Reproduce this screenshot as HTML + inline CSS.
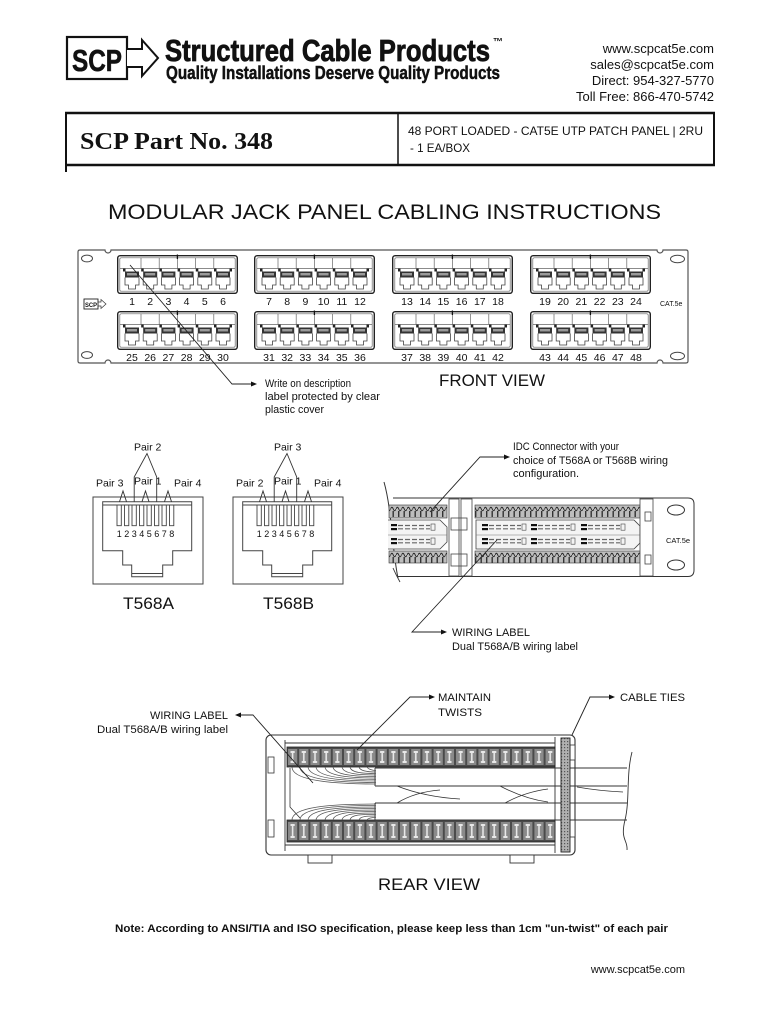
<!DOCTYPE html>
<html><head><meta charset="utf-8"><style>
html,body{margin:0;padding:0;background:#fff;}
svg{display:block;}
text{font-family:"Liberation Sans",sans-serif;fill:#111;}
</style></head><body>
<svg width="758" height="1024" viewBox="0 0 758 1024" xmlns="http://www.w3.org/2000/svg">
<defs>
 <g id="jk">
  <rect x="-9" y="13.5" width="2.5" height="3" fill="#222"/>
  <rect x="-7" y="16.5" width="14" height="6" fill="#333"/>
  <rect x="-5" y="18" width="10" height="2.5" fill="#9a9a9a"/>
  <path d="M-7 22.5V30H-3.5V34H3.5V30H7V22.5" fill="none" stroke="#444" stroke-width="0.8"/>
 </g>
 <g id="md">
  <rect x="0.7" y="0.7" width="119.6" height="37.6" rx="2.5" fill="#fff" stroke="#222" stroke-width="1.4"/>
  <rect x="2.8" y="2.8" width="115.4" height="33.4" rx="1.5" fill="none" stroke="#666" stroke-width="0.7"/>
  <path d="M24 2.8V13.5M42.2 2.8V13.5M60.4 2.8V13.5M78.6 2.8V13.5M96.8 2.8V13.5M3 13.5H118" stroke="#666" stroke-width="0.7" fill="none"/>
  <path d="M60.4 -0.5V4" stroke="#111" stroke-width="1.3"/>
  <use href="#jk" x="15"/><use href="#jk" x="33.2"/><use href="#jk" x="51.4"/>
  <use href="#jk" x="69.6"/><use href="#jk" x="87.8"/><use href="#jk" x="106"/>
  <rect x="112.5" y="13.5" width="2.5" height="3" fill="#222"/>
 </g>
 <g id="jd">
  <rect x="93" y="497" width="110" height="87" fill="none" stroke="#444" stroke-width="1"/>
  <path d="M102.7 501.7H191.7V550.7H172.7V565H162.7V576.7H131.7V565H122.7V550.7H102.7Z" fill="none" stroke="#444" stroke-width="1"/>
  <path d="M102.7 505H191.7M131.7 573.5H162.7" stroke="#444" stroke-width="0.9" fill="none"/>
  <path d="M117 505V525.7H121.3V505M124.5 505V525.7H128.8V505M132 505V525.7H136.3V505M139.5 505V525.7H143.8V505M147 505V525.7H151.3V505M154.5 505V525.7H158.8V505M162 505V525.7H166.3V505M169.5 505V525.7H173.8V505" fill="none" stroke="#444" stroke-width="0.9"/>
  <path d="M119.5 501.7L123 491L126.5 501.7M142 501.7L145.5 491L149 501.7M164.5 501.7L168 491L171.5 501.7" fill="none" stroke="#333" stroke-width="0.9"/>
  <path d="M134.2 501.7V477L147 453.5L156.7 477V501.7" fill="none" stroke="#333" stroke-width="0.9"/>
 </g>
 <g id="lbl">
  <rect x="0" y="0" width="6" height="2.2" fill="#111"/>
  <rect x="0" y="4" width="6" height="2.2" fill="#111"/>
  <path d="M7 1.5h32M7 4.8h32" stroke="#666" stroke-width="1.2" stroke-dasharray="5 2"/>
  <rect x="40" y="0" width="4" height="6.2" fill="none" stroke="#444" stroke-width="0.6"/>
 </g>
 <pattern id="idcA" width="5.5" height="13" patternUnits="userSpaceOnUse" patternTransform="translate(0 505)">
  <rect width="5.5" height="13" fill="#bdbdbd"/>
  <path d="M0 4Q1.4 0.5 2.75 4Q4.1 7.5 5.5 4" stroke="#222" stroke-width="0.9" fill="none"/>
  <rect x="2" y="6" width="1.4" height="6" fill="#333"/>
 </pattern>
 <pattern id="idcB" width="5.5" height="13" patternUnits="userSpaceOnUse" patternTransform="translate(0 551)">
  <rect width="5.5" height="13" fill="#bdbdbd"/>
  <path d="M0 4Q1.4 0.5 2.75 4Q4.1 7.5 5.5 4" stroke="#222" stroke-width="0.9" fill="none"/>
  <rect x="2" y="6" width="1.4" height="6" fill="#333"/>
 </pattern>
 <pattern id="irA" width="11.2" height="20" patternUnits="userSpaceOnUse" patternTransform="translate(287 747)">
  <rect width="11.2" height="20" fill="#4a4a4a"/>
  <rect x="1" y="2" width="9.2" height="16" fill="#8a8a8a"/>
  <path d="M3.5 4h4.2v2h-1.3v8h1.3v2h-4.2v-2h1.3v-8h-1.3z" fill="#e8e8e8"/>
 </pattern>
 <pattern id="irB" width="11.2" height="22" patternUnits="userSpaceOnUse" patternTransform="translate(287 820)">
  <rect width="11.2" height="22" fill="#4a4a4a"/>
  <rect x="1" y="2" width="9.2" height="18" fill="#8a8a8a"/>
  <path d="M3.5 4h4.2v2h-1.3v10h1.3v2h-4.2v-2h1.3v-10h-1.3z" fill="#e8e8e8"/>
 </pattern>
 <pattern id="hatch" width="3" height="3" patternUnits="userSpaceOnUse">
  <rect width="3" height="3" fill="#b0b0b0"/>
  <rect x="0" y="0" width="1.2" height="1.2" fill="#555"/>
 </pattern>
</defs>

<!-- HEADER -->
<rect x="67" y="37" width="60" height="42" fill="#fff" stroke="#111" stroke-width="2.2"/>
<text x="72" y="71" font-size="31" font-weight="bold" textLength="50" lengthAdjust="spacingAndGlyphs" stroke="#111" stroke-width="0.6">SCP</text>
<path d="M127 49H142V40L158 58L142 76V67H127" fill="#fff" stroke="#111" stroke-width="2"/>
<text x="165" y="61" font-size="31" font-weight="bold" textLength="325" lengthAdjust="spacingAndGlyphs" stroke="#111" stroke-width="0.8">Structured Cable Products</text>
<text x="493" y="45" font-size="10" font-weight="bold">™</text>
<text x="166" y="79" font-size="18" font-weight="bold" textLength="334" lengthAdjust="spacingAndGlyphs" stroke="#111" stroke-width="0.5">Quality Installations Deserve Quality Products</text>
<g font-size="13" text-anchor="end">
 <text x="714" y="53">www.scpcat5e.com</text>
 <text x="714" y="69">sales@scpcat5e.com</text>
 <text x="714" y="85">Direct: 954-327-5770</text>
 <text x="714" y="101">Toll Free: 866-470-5742</text>
</g>

<!-- PART BOX -->
<rect x="66" y="113" width="648" height="52" fill="none" stroke="#111" stroke-width="2"/>
<line x1="65" y1="113" x2="715" y2="113" stroke="#111" stroke-width="2.6"/>
<line x1="65" y1="165" x2="715" y2="165" stroke="#111" stroke-width="2.6"/>
<line x1="398" y1="113" x2="398" y2="165" stroke="#111" stroke-width="1.5"/>
<line x1="66" y1="165" x2="66" y2="172" stroke="#111" stroke-width="2"/>
<text x="80" y="149" font-size="24" font-weight="bold" textLength="193" lengthAdjust="spacingAndGlyphs" style="font-family:'Liberation Serif',serif">SCP Part No. 348</text>
<text x="408" y="135" font-size="12" textLength="295" lengthAdjust="spacingAndGlyphs">48 PORT LOADED - CAT5E  UTP PATCH PANEL  |  2RU</text>
<text x="410" y="152" font-size="12" textLength="60" lengthAdjust="spacingAndGlyphs">- 1 EA/BOX</text>

<!-- TITLE -->
<text x="108" y="219" font-size="21" textLength="553" lengthAdjust="spacingAndGlyphs">MODULAR JACK PANEL CABLING INSTRUCTIONS</text>

<!-- FRONT PANEL -->
<path d="M80 250H105A3 3 0 0 0 111 250H657A3 3 0 0 0 663 250H686Q688 250 688 252V361Q688 363 686 363H663A3 3 0 0 0 657 363H111A3 3 0 0 0 105 363H80Q78 363 78 361V252Q78 250 80 250Z" fill="#fff" stroke="#555" stroke-width="1.2"/>
<ellipse cx="87" cy="258.5" rx="5.5" ry="3.4" fill="none" stroke="#444" stroke-width="1"/>
<ellipse cx="87" cy="355" rx="5.5" ry="3.4" fill="none" stroke="#444" stroke-width="1"/>
<ellipse cx="677.5" cy="259" rx="7" ry="3.8" fill="none" stroke="#444" stroke-width="1"/>
<ellipse cx="677.5" cy="356" rx="7" ry="3.8" fill="none" stroke="#444" stroke-width="1"/>
<use href="#md" x="117" y="255"/><use href="#md" x="254" y="255"/><use href="#md" x="392" y="255"/><use href="#md" x="530" y="255"/>
<use href="#md" x="117" y="311"/><use href="#md" x="254" y="311"/><use href="#md" x="392" y="311"/><use href="#md" x="530" y="311"/>
<g font-size="10.5" text-anchor="middle" fill="#222">
 <text x="132" y="305">1</text><text x="150.2" y="305">2</text><text x="168.4" y="305">3</text><text x="186.6" y="305">4</text><text x="204.8" y="305">5</text><text x="223" y="305">6</text>
 <text x="269" y="305">7</text><text x="287.2" y="305">8</text><text x="305.4" y="305">9</text><text x="323.6" y="305">10</text><text x="341.8" y="305">11</text><text x="360" y="305">12</text>
 <text x="407" y="305">13</text><text x="425.2" y="305">14</text><text x="443.4" y="305">15</text><text x="461.6" y="305">16</text><text x="479.8" y="305">17</text><text x="498" y="305">18</text>
 <text x="545" y="305">19</text><text x="563.2" y="305">20</text><text x="581.4" y="305">21</text><text x="599.6" y="305">22</text><text x="617.8" y="305">23</text><text x="636" y="305">24</text>
 <text x="132" y="361">25</text><text x="150.2" y="361">26</text><text x="168.4" y="361">27</text><text x="186.6" y="361">28</text><text x="204.8" y="361">29</text><text x="223" y="361">30</text>
 <text x="269" y="361">31</text><text x="287.2" y="361">32</text><text x="305.4" y="361">33</text><text x="323.6" y="361">34</text><text x="341.8" y="361">35</text><text x="360" y="361">36</text>
 <text x="407" y="361">37</text><text x="425.2" y="361">38</text><text x="443.4" y="361">39</text><text x="461.6" y="361">40</text><text x="479.8" y="361">41</text><text x="498" y="361">42</text>
 <text x="545" y="361">43</text><text x="563.2" y="361">44</text><text x="581.4" y="361">45</text><text x="599.6" y="361">46</text><text x="617.8" y="361">47</text><text x="636" y="361">48</text>
</g>
<rect x="84" y="299" width="14" height="10" fill="#fff" stroke="#222" stroke-width="0.9"/>
<text x="85" y="307" font-size="6.5" font-weight="bold" textLength="12" lengthAdjust="spacingAndGlyphs">SCP</text>
<path d="M98 302H101V299.5L106 304L101 308.5V306H98" fill="none" stroke="#333" stroke-width="0.7"/>
<text x="660" y="306" font-size="7" fill="#333">CAT.5e</text>

<!-- front annotation -->
<path d="M130 265L232 384H252" fill="none" stroke="#222" stroke-width="0.9"/>
<polygon points="257,384 251,381.5 251,386.5" fill="#111"/>
<g font-size="11">
 <text x="265" y="387" textLength="86" lengthAdjust="spacingAndGlyphs">Write on description</text>
 <text x="265" y="400" textLength="115" lengthAdjust="spacingAndGlyphs">label protected by clear</text>
 <text x="265" y="413" textLength="59" lengthAdjust="spacingAndGlyphs">plastic cover</text>
</g>
<text x="439" y="386" font-size="17" textLength="106" lengthAdjust="spacingAndGlyphs">FRONT VIEW</text>

<!-- JACK DIAGRAMS -->
<use href="#jd"/>
<use href="#jd" x="140"/>
<g font-size="10.5">
 <text x="147.7" y="450.5" text-anchor="middle">Pair 2</text>
 <text x="96" y="486.5">Pair 3</text>
 <text x="134" y="484.5">Pair 1</text>
 <text x="174" y="486.5">Pair 4</text>
 <text x="287.7" y="450.5" text-anchor="middle">Pair 3</text>
 <text x="236" y="486.5">Pair 2</text>
 <text x="274" y="484.5">Pair 1</text>
 <text x="314" y="486.5">Pair 4</text>
</g>
<g font-size="9" text-anchor="middle">
 <text x="119.2" y="537">1</text><text x="126.7" y="537">2</text><text x="134.2" y="537">3</text><text x="141.7" y="537">4</text><text x="149.2" y="537">5</text><text x="156.7" y="537">6</text><text x="164.2" y="537">7</text><text x="171.7" y="537">8</text>
 <text x="259.2" y="537">1</text><text x="266.7" y="537">2</text><text x="274.2" y="537">3</text><text x="281.7" y="537">4</text><text x="289.2" y="537">5</text><text x="296.7" y="537">6</text><text x="304.2" y="537">7</text><text x="311.7" y="537">8</text>
</g>
<text x="123" y="609" font-size="17" textLength="51" lengthAdjust="spacingAndGlyphs">T568A</text>
<text x="263" y="609" font-size="17" textLength="51" lengthAdjust="spacingAndGlyphs">T568B</text>

<!-- IDC PANEL (rear perspective) -->
<path d="M384 482C392 510 392 550 398 578" fill="none" stroke="#333" stroke-width="1"/>
<path d="M393 498H653M398 576.5H653" stroke="#333" stroke-width="1" fill="none"/>
<rect x="389" y="505" width="58" height="13" fill="url(#idcA)" stroke="#333" stroke-width="0.6"/>
<rect x="475" y="505" width="165" height="13" fill="url(#idcA)" stroke="#333" stroke-width="0.6"/>
<rect x="389" y="551" width="58" height="12" fill="url(#idcB)" stroke="#333" stroke-width="0.6"/>
<rect x="475" y="551" width="165" height="12" fill="url(#idcB)" stroke="#333" stroke-width="0.6"/>
<path d="M388 520H440L447 527V542L440 549H388" fill="#f4f4f4" stroke="#444" stroke-width="0.8"/>
<path d="M388 535H447" stroke="#777" stroke-width="0.6"/>
<path d="M476 520H634L640 526V543L634 549H476Z" fill="#f4f4f4" stroke="#444" stroke-width="0.8"/>
<path d="M476 535H640" stroke="#777" stroke-width="0.6"/>
<use href="#lbl" x="391" y="524"/><use href="#lbl" x="391" y="538"/>
<use href="#lbl" x="482" y="524"/><use href="#lbl" x="531" y="524"/><use href="#lbl" x="581" y="524"/>
<use href="#lbl" x="482" y="538"/><use href="#lbl" x="531" y="538"/><use href="#lbl" x="581" y="538"/>
<rect x="449" y="499" width="10" height="77" fill="#fff" stroke="#444" stroke-width="0.8"/>
<rect x="461" y="499" width="11" height="77" fill="#fff" stroke="#444" stroke-width="0.8"/>
<rect x="451" y="518" width="16" height="12" fill="none" stroke="#444" stroke-width="0.8"/>
<rect x="451" y="554" width="16" height="12" fill="none" stroke="#444" stroke-width="0.8"/>
<rect x="640" y="499" width="13" height="77" fill="#fff" stroke="#444" stroke-width="0.8"/>
<rect x="645" y="512" width="6" height="9" fill="none" stroke="#444" stroke-width="0.8"/>
<rect x="645" y="555" width="6" height="9" fill="none" stroke="#444" stroke-width="0.8"/>
<path d="M653 498H688Q694 498 694 504V570Q694 576.5 688 576.5H653" fill="none" stroke="#333" stroke-width="1"/>
<ellipse cx="676" cy="510" rx="8.5" ry="5" fill="none" stroke="#333" stroke-width="1"/>
<ellipse cx="676" cy="565" rx="8.5" ry="5" fill="none" stroke="#333" stroke-width="1"/>
<text x="666" y="543" font-size="7.5" fill="#333">CAT.5e</text>
<path d="M393 568Q396 575 400 582" fill="none" stroke="#333" stroke-width="0.9"/>

<path d="M430 512L480 457H505" fill="none" stroke="#222" stroke-width="0.9"/>
<polygon points="510,457 504,454.5 504,459.5" fill="#111"/>
<g font-size="11">
 <text x="513" y="450" textLength="106" lengthAdjust="spacingAndGlyphs">IDC Connector with your</text>
 <text x="513" y="464" textLength="155" lengthAdjust="spacingAndGlyphs">choice of T568A or T568B wiring</text>
 <text x="513" y="477" textLength="66" lengthAdjust="spacingAndGlyphs">configuration.</text>
</g>
<path d="M497 540L412 632H442" fill="none" stroke="#222" stroke-width="0.9"/>
<polygon points="447,632 441,629.5 441,634.5" fill="#111"/>
<g font-size="11">
 <text x="452" y="636" textLength="78" lengthAdjust="spacingAndGlyphs">WIRING LABEL</text>
 <text x="452" y="650" textLength="126" lengthAdjust="spacingAndGlyphs">Dual T568A/B wiring label</text>
</g>

<!-- REAR VIEW -->
<g font-size="11">
 <text x="228" y="719" text-anchor="end" textLength="78" lengthAdjust="spacingAndGlyphs">WIRING LABEL</text>
 <text x="228" y="733" text-anchor="end" textLength="131" lengthAdjust="spacingAndGlyphs">Dual T568A/B wiring label</text>
 <text x="438" y="701" textLength="53" lengthAdjust="spacingAndGlyphs">MAINTAIN</text>
 <text x="438" y="716" textLength="44" lengthAdjust="spacingAndGlyphs">TWISTS</text>
 <text x="620" y="701" textLength="65" lengthAdjust="spacingAndGlyphs">CABLE TIES</text>
</g>
<rect x="266" y="735" width="309" height="120" rx="5" fill="#fff" stroke="#333" stroke-width="1.1"/>
<rect x="308" y="855" width="24" height="8" fill="#fff" stroke="#333" stroke-width="0.9"/>
<rect x="510" y="855" width="24" height="8" fill="#fff" stroke="#333" stroke-width="0.9"/>
<path d="M285 740V851M285 743H555M285 845H555M555 737V853" fill="none" stroke="#333" stroke-width="0.9"/>
<rect x="268" y="757" width="6" height="16" fill="#fff" stroke="#333" stroke-width="0.8"/>
<rect x="268" y="820" width="6" height="17" fill="#fff" stroke="#333" stroke-width="0.8"/>
<rect x="570" y="745" width="5" height="15" fill="#fff" stroke="#333" stroke-width="0.8"/>
<rect x="570" y="820" width="5" height="17" fill="#fff" stroke="#333" stroke-width="0.8"/>
<rect x="287" y="747" width="268" height="20" fill="url(#irA)" stroke="#222" stroke-width="0.8"/>
<rect x="287" y="820" width="268" height="22" fill="url(#irB)" stroke="#222" stroke-width="0.8"/>
<path d="M290 768V807L300 818" fill="none" stroke="#333" stroke-width="0.8"/>
<!-- cable bundles -->
<path d="M375 768H627M375 786H627M375 803H627M375 820H627M375 768V786M375 803V820" fill="none" stroke="#333" stroke-width="0.9"/>
<path d="M397 786Q425 797 460 799M397 803Q415 792 440 790M500 786Q525 799 548 802M505 803Q525 792 548 789M577 787Q600 791 623 792" fill="none" stroke="#333" stroke-width="0.8"/>
<!-- wires -->
<g fill="none" stroke="#555" stroke-width="0.8">
 <path d="M292 767C292 780 330 784 376 784"/>
 <path d="M300 767C300 779 335 782.5 376 782.5"/>
 <path d="M308 767C309 778 340 781 376 781"/>
 <path d="M316 767C317 777 345 779.5 376 779.5"/>
 <path d="M325 767C326 776 350 778 376 778"/>
 <path d="M333 767C334 775 355 776.5 376 776.5"/>
 <path d="M342 767C343 774 360 775 376 775"/>
 <path d="M350 767C351 773 364 773.5 376 773.5"/>
 <path d="M359 767C360 771 368 772 376 772"/>
 <path d="M367 767C368 769 372 770.5 376 770.5"/>
 <path d="M292 820C292 807 330 804 376 804"/>
 <path d="M300 820C300 808 335 805.5 376 805.5"/>
 <path d="M308 820C309 809 340 807 376 807"/>
 <path d="M316 820C317 810 345 808.5 376 808.5"/>
 <path d="M325 820C326 811 350 810 376 810"/>
 <path d="M333 820C334 812 355 811.5 376 811.5"/>
 <path d="M342 820C343 813 360 813 376 813"/>
 <path d="M350 820C351 814 364 814.5 376 814.5"/>
 <path d="M359 820C360 816 368 816 376 816"/>
 <path d="M367 820C368 818 372 817.5 376 817.5"/>
</g>
<path d="M632 752C626 775 630 800 625 820S628 840 627 850" fill="none" stroke="#333" stroke-width="0.9"/>
<rect x="561" y="738" width="9" height="114" fill="url(#hatch)" stroke="#222" stroke-width="0.9"/>
<!-- rear arrows -->
<path d="M313 783L253 715H240" fill="none" stroke="#222" stroke-width="0.9"/>
<polygon points="235,715 241,712.5 241,717.5" fill="#111"/>
<path d="M357 750L410 697H430" fill="none" stroke="#222" stroke-width="0.9"/>
<polygon points="435,697 429,694.5 429,699.5" fill="#111"/>
<path d="M572 735L590 697H610" fill="none" stroke="#222" stroke-width="0.9"/>
<polygon points="615,697 609,694.5 609,699.5" fill="#111"/>
<text x="378" y="890" font-size="17" textLength="102" lengthAdjust="spacingAndGlyphs">REAR VIEW</text>

<!-- NOTE & FOOTER -->
<text x="115" y="932" font-size="11" font-weight="bold" textLength="553" lengthAdjust="spacingAndGlyphs">Note: According to ANSI/TIA and ISO specification, please keep less than 1cm "un-twist" of each pair</text>
<text x="685" y="973" font-size="11" text-anchor="end">www.scpcat5e.com</text>
</svg>
</body></html>
